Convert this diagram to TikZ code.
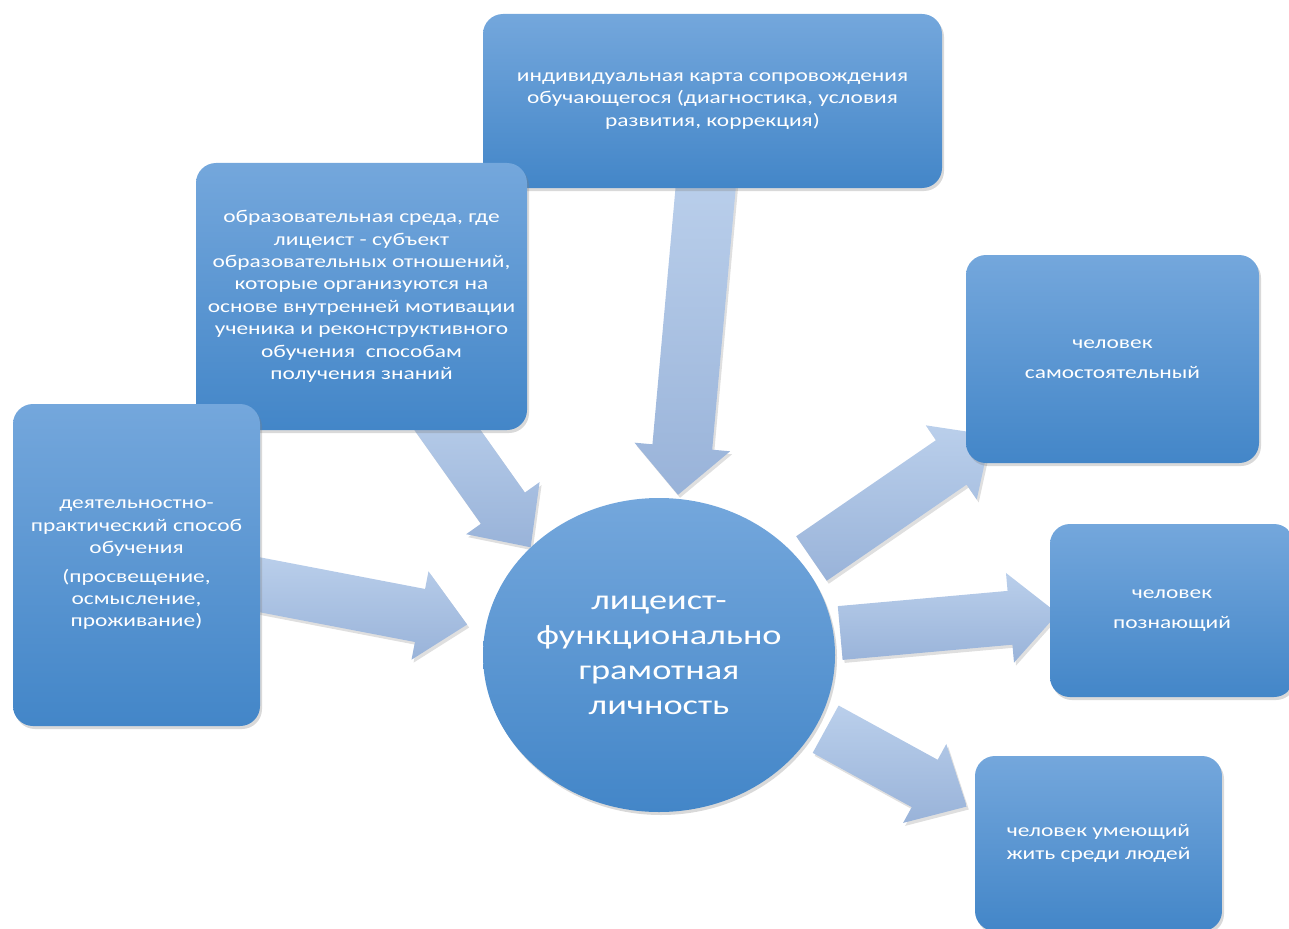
\documentclass[tikz,border=0pt]{standalone}
\usepackage{fontspec}
\setmainfont{Carlito}[FakeStretch=1.3]
\usetikzlibrary{calc,shadows,backgrounds,shapes.geometric}

\definecolor{boxtop}{HTML}{74A7DC}
\definecolor{boxmid}{HTML}{5A9BD8}
\definecolor{boxbot}{HTML}{4386C8}
\definecolor{arrtop}{HTML}{BACFEB}
\definecolor{arrbot}{HTML}{99B3D9}

\newcommand{\boxfont}{\fontsize{18}{22.4}\selectfont}
\newcommand{\circfont}{\fontsize{28}{35}\selectfont}

\tikzset{
    box/.style={rounded corners=20pt, top color=boxtop, middle color=boxmid,
        bottom color=boxbot, text=white, align=center, font=\boxfont, inner sep=0pt,
        drop shadow={opacity=.3, shadow xshift=2pt, shadow yshift=-3pt}},
    circ/.style={ellipse, top color=boxtop, middle color=boxmid, bottom color=boxbot,
        text=white, align=center, font=\circfont, inner sep=0pt,
        drop shadow={opacity=.3, shadow xshift=2pt, shadow yshift=-3pt}},
    blockarr/.style={top color=arrtop, bottom color=arrbot,
        drop shadow={opacity=.25, shadow xshift=2pt, shadow yshift=-3pt},
        to path={
            let \p1=($(\tikztotarget)-(\tikztostart)$),
                \n1={atan2(\y1,\x1)},
                \n2={veclen(\x1,\y1)-48pt} in
            ($(\tikztostart)+(\n1+90:#1pt)$) -- ++(\n1:\n2) -- ++(\n1+90:18pt)
            -- (\tikztotarget)
            -- ($(\tikztostart)+(\n1-90:#1pt)+(\n1:\n2)+(\n1-90:18pt)$)
            -- ++(\n1+90:18pt) -- ($(\tikztostart)+(\n1-90:#1pt)$) -- cycle}},
    blockarr/.default=27
}

\begin{document}
\begin{tikzpicture}[x=1pt,y=1pt]

    \path[use as bounding box] (0,0) rectangle (1289,-928);

    % Boxes
    \node[box, minimum width=459pt, minimum height=174pt] (karta) at (712.5,-101)
        {индивидуальная карта сопровождения\\обучающегося (диагностика, условия\\развития, коррекция)};
    \node[box, minimum width=331pt, minimum height=267pt] (sreda) at (361.5,-296.5)
        {образовательная среда, где\\лицеист - субъект\\образовательных отношений,\\которые организуются на\\основе внутренней мотивации\\ученика и реконструктивного\\обучения \ способам\\получения знаний};
    \node[box, minimum width=247pt, minimum height=322pt] (deyat) at (136.5,-565)
        {деятельностно-\\практический способ\\обучения\\[6pt](просвещение,\\осмысление,\\проживание)};
    \node[box, minimum width=293pt, minimum height=208pt] (samost) at (1112.5,-359)
        {человек\\[8pt]самостоятельный};
    \node[box, minimum width=244pt, minimum height=173pt] (poznan) at (1172,-610.5)
        {человек\\[8pt]познающий};
    \node[box, minimum width=247pt, minimum height=175pt] (umeet) at (1098.5,-843.5)
        {человек умеющий\\жить среди людей};

    % Centre
    \node[circ, minimum width=352pt, minimum height=314pt] (licey) at (659,-655)
        {лицеист-\\функционально\\грамотная\\личность};

    % Arrow ends
    \coordinate (kartaOut) at ([xshift=-6pt,yshift=10pt]karta.south);
    \coordinate (sredaOut) at ([xshift=74pt,yshift=17pt]sreda.south);
    \coordinate (deyatOut) at ([xshift=-20pt,yshift=-16pt]deyat.east);
    \coordinate (liceyTop) at ([xshift=19pt,yshift=3pt]licey.north);
    \coordinate (liceyNW) at (licey.140);
    \coordinate (liceyW) at ([xshift=-19pt]licey.170);
    \coordinate (liceyNE) at ([xshift=10pt,yshift=4pt]licey.33);
    \coordinate (liceyE) at ([xshift=5pt,yshift=22pt]licey.east);
    \coordinate (liceySE) at ([xshift=9pt,yshift=-4pt]licey.-24);
    \coordinate (samostIn) at ([xshift=25pt,yshift=28pt]samost.south west);
    \coordinate (poznanIn) at ([xshift=8pt,yshift=-3pt]poznan.west);
    \coordinate (umeetIn) at ([xshift=-8pt,yshift=37pt]umeet.west);

    % Block arrows
    \begin{scope}[on background layer]
        \path[blockarr=30] (kartaOut) to (liceyTop);
        \path[blockarr] (sredaOut) to (liceyNW);
        \path[blockarr] (deyatOut) to (liceyW);
        \path[blockarr] (liceyNE) to (samostIn);
        \path[blockarr] (liceyE) to (poznanIn);
        \path[blockarr] (liceySE) to (umeetIn);
    \end{scope}

\end{tikzpicture}
\end{document}
